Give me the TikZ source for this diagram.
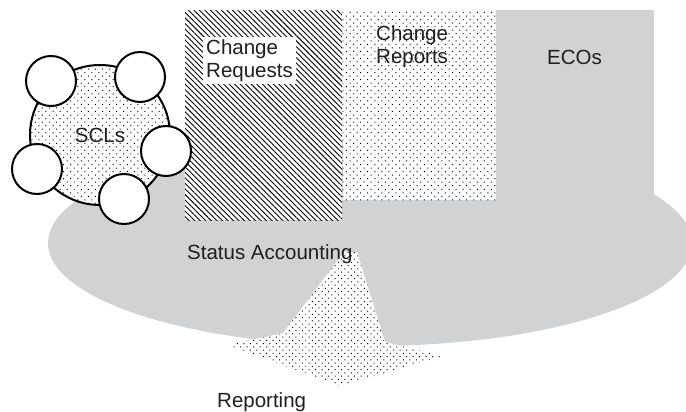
\documentclass[tikz,border=0pt]{standalone}
\usepackage{fontspec}
\setmainfont{Liberation Sans}
\usepackage{xcolor}
\usepackage{tikz}
\usetikzlibrary{shapes.geometric, patterns.meta, positioning}
\definecolor{sagrey}{RGB}{209,210,212}

\begin{document}
\begin{tikzpicture}[
    x=1pt, y=-1pt,
    lbl_text/.style={
        inner sep=0pt,
        align=left,
        font=\fontsize{20.5}{23.5}\selectfont,
        text=black!88
    },
    grey_area/.style={
        fill=sagrey,
        draw=none,
        inner sep=0pt
    },
    dot_box/.style={
        rectangle,
        fill=white,
        postaction={pattern={Dots[distance=5pt, radius=0.7pt, angle=45]}},
        inner sep=0pt
    },
    hatch_box/.style={
        rectangle,
        fill=white,
        postaction={pattern={Lines[angle=-45, distance=3.9pt, line width=0.9pt]}},
        inner sep=0pt
    },
    scl_pool/.style={
        circle,
        draw=black,
        line width=2pt,
        fill=white,
        postaction={pattern={Dots[distance=5pt, radius=0.7pt, angle=45]}},
        minimum size=140pt,
        inner sep=0pt
    },
    scl_item/.style={
        circle,
        draw=black,
        line width=2pt,
        fill=white,
        minimum size=50pt,
        inner sep=0pt
    }
]
    \useasboundingbox (0,0) rectangle (686,412);
    \clip (0,0) rectangle (686,412);

    % Status accounting base and the three record columns
    \node (status) [ellipse, grey_area, minimum width=644pt, minimum height=206pt] at (370,243) {};
    \node (req_box) [hatch_box, anchor=north west, minimum width=157pt, minimum height=210pt] at (185,10) {};
    \node (rep_box) [dot_box, anchor=north west, minimum width=153pt, minimum height=190pt] at (req_box.north east) {};
    \node (eco_box) [grey_area, rectangle, anchor=north west, minimum width=158pt, minimum height=190pt] at (rep_box.north east) {};

    % Reporting fan
    \path [fill=white, postaction={pattern={Dots[distance=4.6pt, radius=0.7pt, angle=45]}}]
        (344,252) -- (357,252) -- (385,342) -- (443,356) -- (340,386) -- (228,345) -- (283,333) -- cycle;

    % SCLs and their items
    \node (scl) [scl_pool, lbl_text] at (100,135) {SCLs};
    \node (item1) [scl_item] at (51,81) {};
    \node (item2) [scl_item] at (140,77) {};
    \node (item3) [scl_item] at (166,151) {};
    \node (item4) [scl_item] at (124,199) {};
    \node (item5) [scl_item] at (37,169) {};

    % Labels
    \node (req_lbl) [lbl_text, fill=white, inner xsep=3pt, inner ysep=2pt, anchor=north west] at (203,37) {Change\\Requests};
    \node (rep_lbl) [lbl_text, anchor=north west] at (376,25) {Change\\Reports};
    \node (eco_lbl) [lbl_text, anchor=base west] at (547,65) {ECOs};
    \node (status_lbl) [lbl_text, anchor=base west] at (187,259) {Status Accounting};
    \node (report_lbl) [lbl_text, anchor=base west] at (217,407) {Reporting};

\end{tikzpicture}
\end{document}
